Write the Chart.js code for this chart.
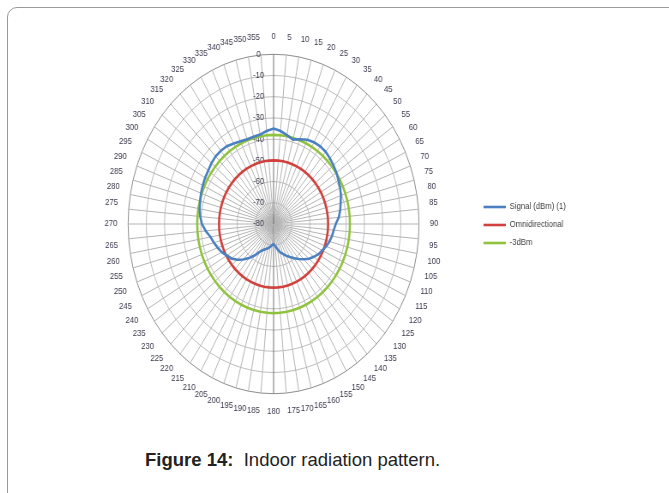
<!DOCTYPE html>
<html>
<head>
<meta charset="utf-8">
<script src="https://cdn.jsdelivr.net/npm/chart.js@4.4.1/dist/chart.umd.min.js"></script>
<style>
  html, body { margin: 0; padding: 0; background: #ffffff; width: 669px; height: 493px; overflow: hidden; }
  #frame { position: absolute; left: 7px; top: 7px; width: 700px; height: 520px; border: 1px solid #9a9a9a; border-radius: 10px; box-sizing: border-box; }
  #wrap { position: absolute; left: 72.6px; top: 32px; transform: scaleX(0.8571); transform-origin: 0 0; }
  #caption { position: absolute; left: 145px; top: 449px; font-family: "Liberation Sans Narrow", "Liberation Sans", Arial, sans-serif; font-size: 18.5px; color: #222; white-space: pre; }
  #caption b { font-weight: bold; }
</style>
</head>
<body>
<div id="frame"></div>
<div id="wrap"><canvas id="c" width="585" height="386"></canvas></div>
<div id="caption"><b>Figure 14:</b>  Indoor radiation pattern.</div>
<script>
// Angle categories (degrees)
const angles = ['0','5','10','15','20','25','30','35','40','45','50','55','60','65','70','75','80','85','90','95','100','105','110','115','120','125','130','135','140','145','150','155','160','165','170','175','180','185','190','195','200','205','210','215','220','225','230','235','240','245','250','255','260','265','270','275','280','285','290','295','300','305','310','315','320','325','330','335','340','345','350','355'];

// Signal (dBm) (1)
const signal = [-35,-36,-37.5,-38.8,-37.5,-36.2,-35.5,-35.3,-35.5,-36.2,-37,-37.8,-38.8,-39.6,-40.6,-41.8,-42.8,-44,-45.8,-46.8,-47.4,-48.2,-49.2,-50.5,-51.5,-53,-54.5,-56.5,-58.5,-60.3,-62,-63.5,-65,-66.3,-68,-69.5,-70.5,-70,-69,-68.2,-67.5,-66.5,-65,-62,-59,-56.3,-53.8,-51.7,-50.3,-48.6,-47.3,-46,-44.8,-42.5,-40.6,-39.5,-38.7,-38.2,-37.5,-37,-36.5,-36.1,-35.4,-34.9,-34.9,-35.2,-36.2,-37,-37.5,-37.4,-37.2,-36];

// Omnidirectional
const omni = [-50,-50,-50,-50,-50,-50,-50,-50,-50,-50,-50,-50,-50,-50,-50,-50,-50,-50,-50,-50,-50,-50,-50,-50,-50,-50,-50,-50,-50,-50,-50,-50,-50,-50,-50,-50,-50,-50,-50,-50,-50,-50,-50,-50,-50,-50,-50,-50,-50,-50,-50,-50,-50,-50,-50,-50,-50,-50,-50,-50,-50,-50,-50,-50,-50,-50,-50,-50,-50,-50,-50,-50];

// -3dBm
const minus3 = [-38,-38,-38,-38,-38,-38,-38,-38,-38,-38,-38,-38,-38,-38,-38,-38,-38,-38,-38,-38,-38,-38,-38,-38,-38,-38,-38,-38,-38,-38,-38,-38,-38,-38,-38,-38,-38,-38,-38,-38,-38,-38,-38,-38,-38,-38,-38,-38,-38,-38,-38,-38,-38,-38,-38,-38,-38,-38,-38,-38,-38,-38,-38,-38,-38,-38,-38,-38,-38,-38,-38,-38];

// Radial axis
const radialMin = -80;
const radialMax = 0;
const radialStep = 10;

const seriesNames = ['Signal (dBm) (1)', 'Omnidirectional', '-3dBm'];
const seriesColors = ['#4a7fc1', '#d0403c', '#8fc23d'];

new Chart(document.getElementById('c'), {
  type: 'radar',
  data: {
    labels: angles,
    datasets: [
      { label: seriesNames[0], data: signal, borderColor: seriesColors[0], backgroundColor: seriesColors[0], borderWidth: 2.6, pointRadius: 0, fill: false, tension: 0 },
      { label: seriesNames[1], data: omni, borderColor: seriesColors[1], backgroundColor: seriesColors[1], borderWidth: 2.6, pointRadius: 0, fill: false, tension: 0 },
      { label: seriesNames[2], data: minus3, borderColor: seriesColors[2], backgroundColor: seriesColors[2], borderWidth: 2.6, pointRadius: 0, fill: false, tension: 0 }
    ]
  },
  options: {
    responsive: false,
    animation: false,
    layout: { padding: 0 },
    plugins: {
      tooltip: { enabled: false },
      legend: {
        position: 'right',
        labels: {
          usePointStyle: true,
          pointStyle: 'line',
          pointStyleWidth: 26,
          padding: 9,
          color: '#404040',
          font: { family: 'Liberation Sans', size: 9 }
        }
      }
    },
    scales: {
      r: {
        min: radialMin,
        max: radialMax,
        startAngle: 0,
        ticks: {
          stepSize: radialStep,
          showLabelBackdrop: false,
          color: '#404050',
          font: { family: 'Liberation Sans', size: 9 },
          callback: (v) => String(v) + '              '
        },
        grid: {
          color: (ctx) => ctx.index === 8 ? '#8c8c8c' : '#bdbdbd',
          lineWidth: 1,
          circular: false
        },
        angleLines: {
          color: (ctx) => (ctx.index === 0 || ctx.index === 36) ? '#707070' : '#b3b3b3',
          lineWidth: 1
        },
        pointLabels: {
          padding: 6,
          color: '#3a3a4e',
          font: { family: 'Liberation Sans', size: 9 }
        }
      }
    }
  }
});
</script>
</body>
</html>
